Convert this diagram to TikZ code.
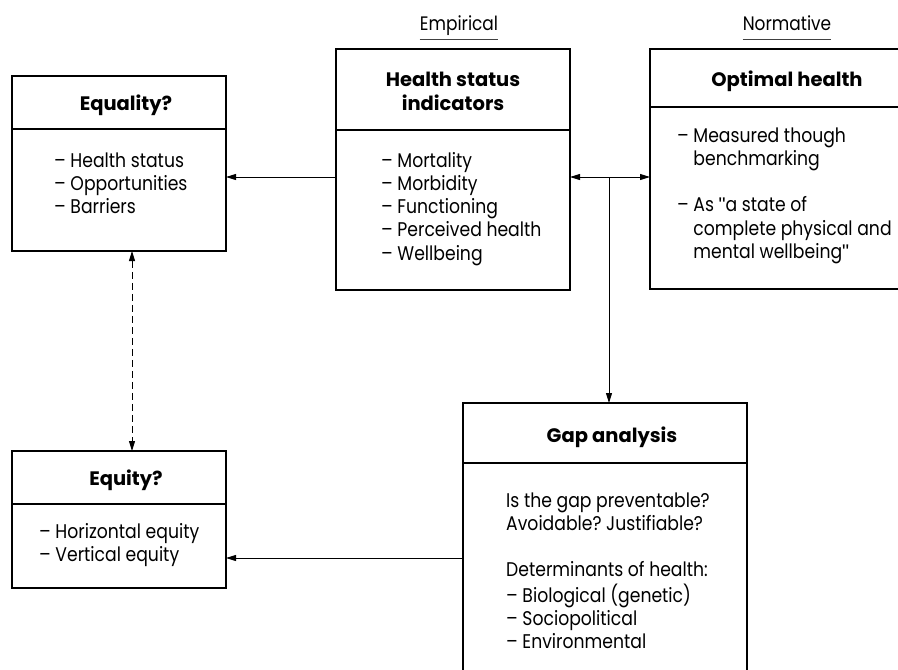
\documentclass[tikz,border=0pt]{standalone}
\usepackage{fontspec}
\setmainfont{Poppins}[FakeStretch=0.87]
\newfontfamily\titlefont{Poppins}
\newfontfamily\quotefont{Liberation Sans}
\newcommand{\sq}{{\quotefont\char34}}
\usetikzlibrary{arrows.meta}
\begin{document}
\frenchspacing
\begin{tikzpicture}[x=1pt,y=-1pt,
  box/.style={draw, line width=1.3pt, rectangle, inner sep=0pt, outer sep=0pt, anchor=north west},
  divider/.style={line width=1.3pt},
  titletext/.style={font=\titlefont\fontsize{19.5}{24}\selectfont\bfseries, inner sep=0pt, anchor=base},
  bodytext/.style={font=\fontsize{19.8}{23.3}\selectfont, inner sep=0pt, anchor=base west},
  labtext/.style={font=\fontsize{19.5}{23.3}\selectfont, inner sep=0pt, anchor=base},
  uline/.style={line width=0.8pt, draw=black!75},
  arr/.style={line width=0.9pt, -{Triangle[length=10pt,width=6pt]}},
  dblarr/.style={line width=0.9pt, {Triangle[length=10pt,width=6pt]}-{Triangle[length=10pt,width=6pt]}},
  dasharr/.style={line width=0.9pt, dash pattern=on 7pt off 4pt, {Triangle[length=10pt,width=6pt]}-{Triangle[length=10pt,width=6pt]}}
]
\useasboundingbox (0,0) rectangle (898,670);
\clip (0,0) rectangle (898,670);

% boxes
\node[box, minimum width=214, minimum height=175] (eq) at (12,76) {};
\node[box, minimum width=234, minimum height=241] (hs) at (336,49) {};
\node[box, minimum width=300, minimum height=240] (opt) at (650,49) {};
\node[box, minimum width=214, minimum height=137] (eqty) at (12,451) {};
\node[box, minimum width=284, minimum height=320] (gap) at (463,403) {};

% dividers
\draw[divider] (eq.west |- 0,129) -- (eq.east |- 0,129);
\draw[divider] (hs.west |- 0,130) -- (hs.east |- 0,130);
\draw[divider] (opt.west |- 0,107) -- (opt.east |- 0,107);
\draw[divider] (eqty.west |- 0,504) -- (eqty.east |- 0,504);
\draw[divider] (gap.west |- 0,463) -- (gap.east |- 0,463);

% column labels
\node[labtext] (emp) at (459,30) {Empirical};
\draw[uline] (emp.west |- 0,39) -- (emp.east |- 0,39);
\node[labtext] (norm) at (787,30) {Normative};
\draw[uline] (norm.west |- 0,39) -- (norm.east |- 0,39);

% titles
\node[titletext] (eqT) at (126,110) {Equality?};
\node[titletext] (hsT) at (453,86) {\begin{tabular}[t]{@{}c@{}}Health status\\indicators\end{tabular}};
\node[titletext] (optT) at (787,86) {Optimal health};
\node[titletext] (eqtyT) at (126,485) {Equity?};
\node[titletext] (gapT) at (612,442) {Gap analysis};

% bodies
\node[bodytext] (eqB) at (54,167) {\begin{tabular}[t]{@{}l@{}}– Health status\\– Opportunities\\– Barriers\end{tabular}};
\node[bodytext] (hsB) at (381,167) {\begin{tabular}[t]{@{}l@{}}– Mortality\\– Morbidity\\– Functioning\\– Perceived health\\– Wellbeing\end{tabular}};
\node[bodytext] (optB) at (677,142) {\begin{tabular}[t]{@{}l@{}}– Measured though\\\phantom{– }benchmarking\\ \\– As \sq a state of\\\phantom{– }complete physical and\\\phantom{– }mental wellbeing\sq\end{tabular}};
\node[bodytext] (eqtyB) at (39,538) {\begin{tabular}[t]{@{}l@{}}– Horizontal equity\\– Vertical equity\end{tabular}};
\node[bodytext] (gapB) at (506,507) {\begin{tabular}[t]{@{}l@{}}Is the gap preventable?\\Avoidable? Justifiable?\\ \\Determinants of health:\\– Biological (genetic)\\– Sociopolitical\\– Environmental\end{tabular}};

% connectors
\coordinate (rowA) at (0,177);
\coordinate (branch) at (609,177);
\coordinate (dcol) at (132,0);
\coordinate (rowB) at (0,558);
\draw[arr] (hs.west |- rowA) -- (eq.east |- rowA);
\draw[dblarr] (hs.east |- rowA) -- (opt.west |- rowA);
\draw[arr] (branch) -- (branch |- gap.north);
\draw[dasharr] (dcol |- eq.south) -- (dcol |- eqty.north);
\draw[arr] (gap.west |- rowB) -- (eqty.east |- rowB);
\end{tikzpicture}
\end{document}
